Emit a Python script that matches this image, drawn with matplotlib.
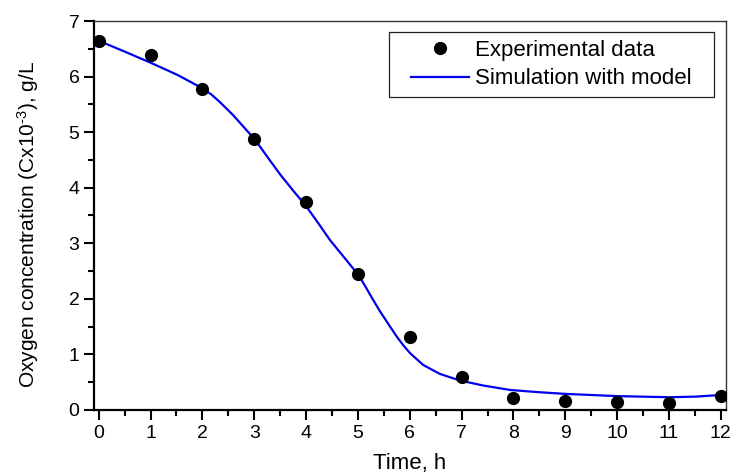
import matplotlib
matplotlib.use("Agg")
import matplotlib.pyplot as plt
from matplotlib.patches import Rectangle
from matplotlib.ticker import MultipleLocator

plt.rcParams['font.family'] = ['Liberation Sans', 'DejaVu Sans']
plt.rcParams['mathtext.fontset'] = 'custom'
plt.rcParams['mathtext.rm'] = 'Liberation Sans'
plt.rcParams['mathtext.it'] = 'Liberation Sans'

# experimental points
t_exp = [0, 1, 2, 3, 4, 5, 6, 7, 8, 9, 10, 11, 12]
c_exp = [6.64, 6.39, 5.78, 4.88, 3.74, 2.45, 1.31, 0.59, 0.22, 0.16, 0.15, 0.13, 0.26]

# model curve
t_mod = [0, 0.5, 1.0, 1.52, 2.0, 2.17, 2.34, 2.6, 2.8, 3.02, 3.25, 3.5, 3.75, 4.0, 4.23, 4.46,
         4.74, 5.01, 5.14, 5.27, 5.43, 5.6, 5.75, 5.88, 6.01, 6.26, 6.58, 6.97, 7.42, 7.94, 8.5, 9,
         9.5, 10, 10.5, 11, 11.5, 12]
c_mod = [6.645, 6.45, 6.25, 6.03, 5.79, 5.68, 5.54, 5.30, 5.09, 4.86, 4.56, 4.24, 3.95, 3.67, 3.37, 3.06,
         2.74, 2.43, 2.23, 2.02, 1.77, 1.53, 1.32, 1.16, 1.02, 0.81, 0.65, 0.53, 0.44, 0.36, 0.32, 0.29,
         0.27, 0.25, 0.24, 0.23, 0.24, 0.27]

fig = plt.figure(figsize=(7.32, 4.73), dpi=100)
ax = fig.add_axes([0.1284, 0.1332, 0.8634, 0.8224])

ax.plot(t_exp, c_exp, 'o', color='black', markersize=8.5, label='Experimental data', zorder=3)
ax.plot(t_mod, c_mod, '-', color='#0000ee', linewidth=1.6, label='Simulation with model', zorder=2)

ax.set_xlim(-0.09, 12.1)
ax.set_ylim(0, 7)
ax.xaxis.set_major_locator(MultipleLocator(1))
ax.xaxis.set_minor_locator(MultipleLocator(0.5))
ax.yaxis.set_major_locator(MultipleLocator(1))
ax.yaxis.set_minor_locator(MultipleLocator(0.5))

ax.tick_params(which='major', direction='out', length=7, width=1.5, labelsize=14,
               top=False, right=False, pad=3.5)
ax.tick_params(which='minor', direction='out', length=4, width=1.5, top=False, right=False)

for s in ['left', 'bottom']:
    ax.spines[s].set_linewidth(1.6)
for s in ['top', 'right']:
    ax.spines[s].set_linewidth(1.0)
    ax.spines[s].set_color('#333333')

ax.set_xlabel('Time, h', fontsize=16, labelpad=8)
ax.set_ylabel(r'Oxygen concentration (Cx10$^{\text{-3}}$), g/L', fontsize=15)
ax.yaxis.set_label_coords(-0.084, 0.476)

# legend without frame, box drawn separately
leg = ax.legend(loc='center', bbox_to_anchor=(0.724, 0.888), fontsize=16, frameon=False,
                borderpad=0, handlelength=2.6, handletextpad=0.3, labelspacing=0.35)
ax.add_patch(Rectangle((0.4668, 0.8046), 0.5142, 0.1671, transform=ax.transAxes,
                       fill=False, edgecolor='#222222', linewidth=0.9, zorder=4))

fig.savefig('out.png', dpi=100)
